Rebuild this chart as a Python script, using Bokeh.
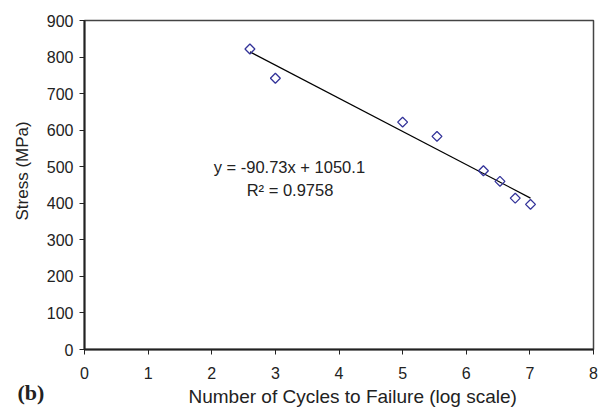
import math
from bokeh.plotting import figure
from bokeh.models import Range1d, Label, FixedTicker, Title
from bokeh.embed import file_html
from bokeh.resources import INLINE

# Data
cycles_log = [2.60, 3.00, 5.00, 5.54, 6.27, 6.53, 6.77, 7.01]
stress_mpa = [822, 742, 622, 583, 489, 460, 414, 397]
slope = -90.73
intercept = 1050.1
r_squared = 0.9758
x_ticks = [0, 1, 2, 3, 4, 5, 6, 7, 8]
y_ticks = [0, 100, 200, 300, 400, 500, 600, 700, 800, 900]

FONT = "Liberation Sans"
TXT = "#222222"

p = figure(width=598, height=408, output_backend="svg", toolbar_location=None,
           x_range=Range1d(0, 8), y_range=Range1d(0, 900),
           min_border_left=84, min_border_right=5, min_border_top=20, min_border_bottom=59)
p.xgrid.visible = False
p.ygrid.visible = False
p.background_fill_color = "white"
p.border_fill_color = "white"
p.outline_line_color = "#444444"
p.outline_line_width = 1.5

for ax in (p.xaxis[0], p.yaxis[0]):
    ax.axis_line_color = TXT
    ax.axis_line_width = 2
    ax.major_tick_line_color = TXT
    ax.major_tick_line_width = 1
    ax.major_tick_out = 5
    ax.major_tick_in = 0
    ax.minor_tick_line_color = None
    ax.major_label_text_font = FONT
    ax.major_label_text_font_size = "16px"
    ax.major_label_text_color = TXT
p.xaxis[0].ticker = FixedTicker(ticks=x_ticks)
p.yaxis[0].ticker = FixedTicker(ticks=y_ticks)
p.xaxis[0].major_label_standoff = 12
p.yaxis[0].major_label_standoff = 6

# trend line
x0, x1 = min(cycles_log), max(cycles_log)
p.line([x0, x1], [slope * x0 + intercept, slope * x1 + intercept],
       line_color="black", line_width=1.2)

# data points (open diamonds)
p.scatter(cycles_log, stress_mpa, marker="square", size=7, angle=math.pi / 4,
          fill_color=None, line_color="#333399", line_width=1.3)

eq_text = "y = %.2fx + %.1f" % (slope, intercept)
r_text = "R\u00b2 = %.4f" % r_squared
p.add_layout(Label(x=3.22, y=500, text=eq_text, text_align="center", text_baseline="middle",
                   text_font=FONT, text_font_size="16.5px", text_color=TXT))
p.add_layout(Label(x=3.23, y=435, text=r_text, text_align="center", text_baseline="middle",
                   text_font=FONT, text_font_size="16.5px", text_color=TXT))

# axis titles and panel tag
p.add_layout(Title(text="Stress (MPa)", align="left", offset=129, standoff=21,
                   vertical_align="middle",
                   text_font=FONT, text_font_size="17px", text_font_style="normal",
                   text_color=TXT), "left")
p.add_layout(Title(text="(b)", align="left", offset=-67, standoff=-8,
                   text_font="Liberation Serif", text_font_size="22px", text_font_style="bold",
                   text_color=TXT), "below")
p.add_layout(Title(text="Number of Cycles to Failure (log scale)", align="left", offset=104,
                   standoff=-30, vertical_align="top", text_font=FONT, text_font_size="19px",
                   text_font_style="normal", text_color=TXT), "below")

open("out.html", "w").write(file_html(p, INLINE))
